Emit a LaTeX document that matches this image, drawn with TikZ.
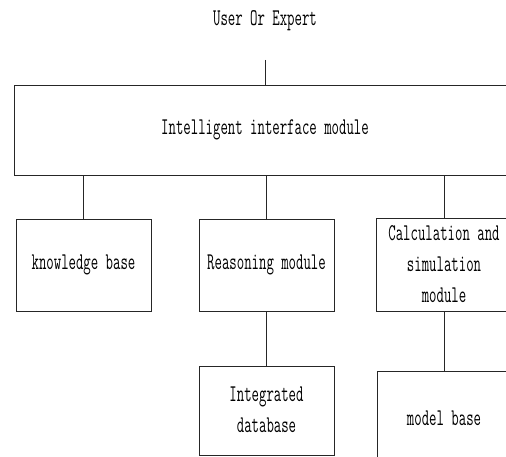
\documentclass[tikz,border=0pt]{standalone}
\usepackage{fontspec}
\usepackage{graphicx}

% narrow, tall typewriter lettering used for every label
\newcommand{\sqz}[1]{\scalebox{0.6}[1]{\fontsize{24}{31}\selectfont\ttfamily #1}}
\newcommand{\sqzlines}[1]{\sqz{\begin{tabular}{@{}c@{}}#1\end{tabular}}}

\tikzset{
  module/.style={draw=black!85, line width=0.8pt, rectangle, inner sep=0pt, fill=white},
  link/.style={draw=black!85, line width=0.8pt},
  label/.style={inner sep=0pt}
}

\begin{document}
\begin{tikzpicture}[x=1pt, y=-1pt]
  \useasboundingbox (0,0) rectangle (506,457);
  \clip (0,0) rectangle (506,457);

  % top label and its lead-in line
  \node[label] (user) at (265,21) {\sqz{User Or Expert}};
  \coordinate (ulead) at (265,60);

  % interface layer
  \node[module, minimum width=502pt, minimum height=90pt] (iface) at (265,130)
    {\sqz{Intelligent interface module}};

  % second row of modules
  \node[module, minimum width=135pt, minimum height=92pt] (kb) at (83.5,265)
    {\sqz{knowledge base}};
  \node[module, minimum width=135pt, minimum height=92pt] (reason) at (266.5,265)
    {\sqz{Reasoning module}};
  \node[module, minimum width=136pt, minimum height=90pt] (calc) at (444,265)
    {\sqzlines{Calculation and\\simulation\\module}};

  % third row
  \node[module, minimum width=135pt, minimum height=89pt] (idb) at (266.5,410.5)
    {\sqzlines{Integrated\\database}};
  \node[module, minimum width=134pt, minimum height=94pt] (model) at (444,418)
    {\sqz{model base}};

  % connectors
  \draw[link] (ulead) -- (iface.north);
  \draw[link] (kb.north |- iface.south) -- (kb.north);
  \draw[link] (reason.north |- iface.south) -- (reason.north);
  \draw[link] (calc.north |- iface.south) -- (calc.north);
  \draw[link] (reason.south) -- (idb.north);
  \draw[link] (calc.south) -- (model.north);
\end{tikzpicture}
\end{document}
